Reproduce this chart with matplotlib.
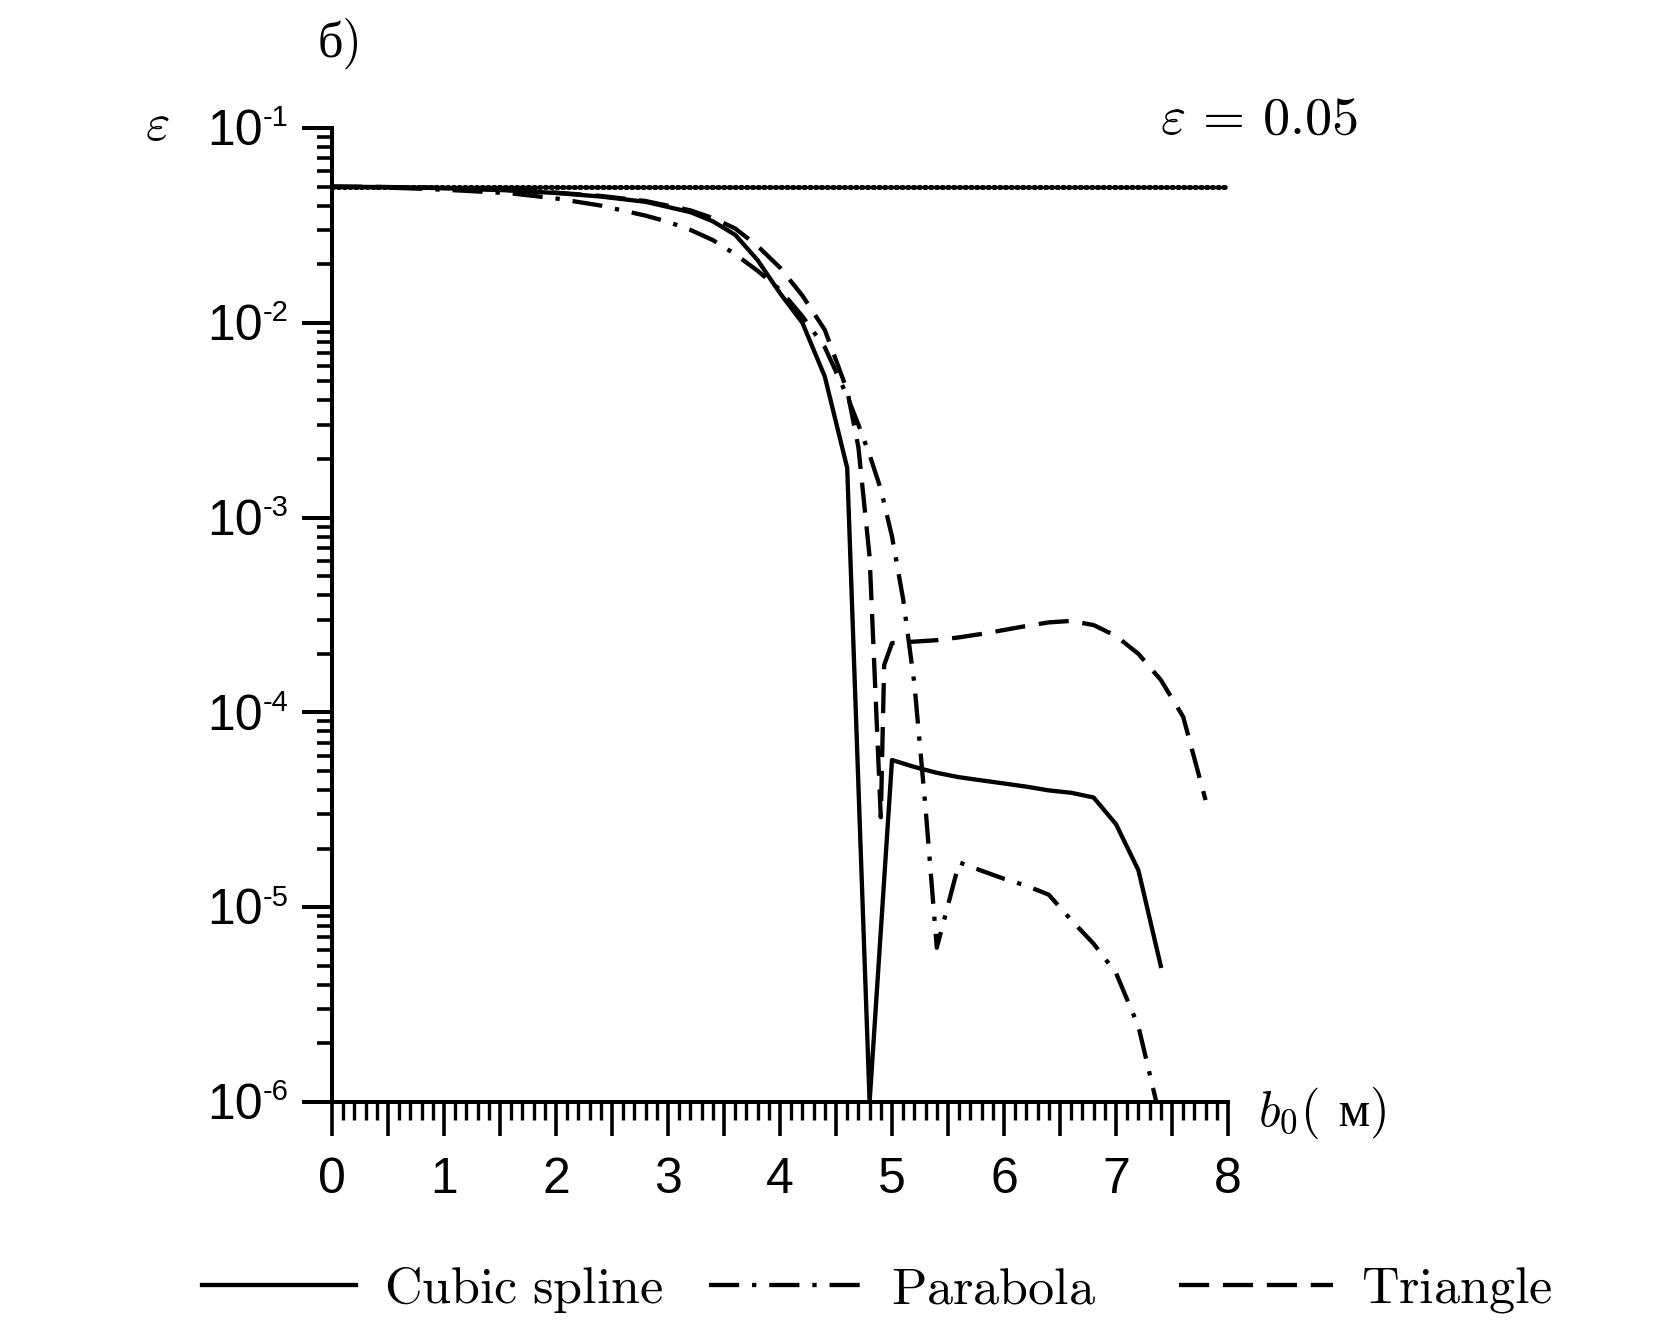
import matplotlib
matplotlib.use("Agg")
import matplotlib.pyplot as plt
from matplotlib.ticker import MultipleLocator, LogLocator, FuncFormatter, NullFormatter

plt.rcParams['font.family'] = ['Liberation Sans Narrow', 'Liberation Sans', 'DejaVu Sans']
plt.rcParams['mathtext.fontset'] = 'cm'

# --- data ---
eps_level = 0.05

x_cs = [0, 0.4, 0.8, 1.2, 1.6, 2.0, 2.4, 2.8, 3.2, 3.4, 3.6, 3.8, 4.0, 4.2, 4.4, 4.6,
        4.8, 5.0, 5.2, 5.4, 5.6, 5.8, 6.0, 6.2, 6.4, 6.6, 6.8, 7.0, 7.2, 7.4]
y_cs = [0.050, 0.0498, 0.0494, 0.0488, 0.0478, 0.0464, 0.0445, 0.0418, 0.0370, 0.0332,
        0.0283, 0.0210, 0.0142, 0.0100, 0.0053, 0.0018,
        1.0e-6, 5.7e-5, 5.25e-5, 4.9e-5, 4.65e-5, 4.48e-5, 4.32e-5, 4.16e-5, 3.98e-5,
        3.87e-5, 3.66e-5, 2.67e-5, 1.55e-5, 5.0e-6]

x_pb = [0, 0.4, 0.8, 1.2, 1.6, 2.0, 2.4, 2.8, 3.0, 3.2, 3.4, 3.6, 3.8, 4.0, 4.2, 4.4,
        4.6, 4.7, 4.8, 4.9, 5.0, 5.1, 5.2, 5.3, 5.4, 5.6, 5.8, 6.0, 6.2, 6.4, 6.6,
        6.8, 7.0, 7.2, 7.4]
y_pb = [0.050, 0.0496, 0.0488, 0.0476, 0.0462, 0.0435, 0.0400, 0.0355, 0.0330, 0.0300,
        0.0266, 0.0225, 0.0185, 0.0148, 0.0108, 0.0075,
        0.0042, 0.0030, 0.0021, 0.0014, 8.0e-4, 3.8e-4, 1.4e-4, 3.2e-5, 6.2e-6,
        1.7e-5, 1.54e-5, 1.4e-5, 1.29e-5, 1.16e-5, 8.6e-6, 6.5e-6, 4.6e-6, 2.45e-6, 8.0e-7]

x_tr = [0, 0.4, 0.8, 1.2, 1.6, 2.0, 2.4, 2.8, 3.2, 3.4, 3.6, 3.8, 4.0, 4.2, 4.4, 4.6,
        4.7, 4.8, 4.9, 4.93, 5.0, 5.2, 5.4, 5.6, 5.8, 6.0, 6.2, 6.4, 6.6, 6.8, 7.0,
        7.2, 7.4, 7.6, 7.8]
y_tr = [0.050, 0.0499, 0.0495, 0.0489, 0.0479, 0.0466, 0.0448, 0.0422, 0.0378, 0.0345,
        0.0305, 0.0248, 0.0192, 0.0138, 0.0092, 0.0045,
        0.0023, 6.3e-4, 2.9e-5, 1.75e-4, 2.27e-4, 2.31e-4, 2.35e-4, 2.43e-4, 2.53e-4,
        2.65e-4, 2.78e-4, 2.90e-4, 2.95e-4, 2.81e-4, 2.47e-4, 2.0e-4, 1.47e-4, 9.5e-5, 3.55e-5]

labels = [r'$\mathrm{Cubic\ spline}$', r'$\mathrm{Parabola}$', r'$\mathrm{Triangle}$']
y_exps = [1, 2, 3, 4, 5, 6]

W, H = 1661.0, 1331.0
fig = plt.figure(figsize=(W / 100, H / 100), dpi=100)
ax = fig.add_axes([0.1999, 0.172, 0.5394, 0.7318])

l1, = ax.plot(x_cs, y_cs, color='black', lw=3.1, ls='-')
l2, = ax.plot(x_pb, y_pb, color='black', lw=3.1, ls=(0, (7, 3, 1, 3)))
l3, = ax.plot(x_tr, y_tr, color='black', lw=3.1, ls=(0, (7, 3.2)))
ax.axhline(eps_level, color='black', lw=3.6, ls=(0, (0.3, 0.85)),
           dash_capstyle='round')

ax.set_yscale('log')
ax.set_ylim(1e-6, 1e-1)
ax.set_xlim(0, 8)

for s in ['top', 'right']:
    ax.spines[s].set_visible(False)
for s in ['left', 'bottom']:
    ax.spines[s].set_linewidth(2.9)

ax.xaxis.set_major_locator(MultipleLocator(0.5))
ax.xaxis.set_minor_locator(MultipleLocator(0.1))
ax.xaxis.set_major_formatter(FuncFormatter(
    lambda v, p: f'{v:.0f}' if abs(v - round(v)) < 1e-6 else ''))
ax.tick_params(axis='x', which='major', direction='out', length=24.5, width=2.6,
               labelsize=36, pad=15)
ax.tick_params(axis='x', which='minor', direction='out', length=13, width=2.4)

ax.yaxis.set_major_locator(LogLocator(base=10, numticks=10))
ax.yaxis.set_minor_locator(LogLocator(base=10, subs=range(2, 10), numticks=20))
ax.yaxis.set_major_formatter(NullFormatter())
ax.yaxis.set_minor_formatter(NullFormatter())
ax.tick_params(axis='y', which='major', direction='out', length=21.6, width=2.9)
ax.tick_params(axis='y', which='minor', direction='out', length=10.8, width=2.6)

# y tick labels 10^-k drawn as two texts
for k in y_exps:
    v = 10.0 ** (-k)
    ax.annotate('10', xy=(0, v), xycoords=('axes fraction', 'data'),
                xytext=(-49.5, -3), textcoords='offset points',
                ha='right', va='center', fontsize=36)
    ax.annotate('-%d' % k, xy=(0, v), xycoords=('axes fraction', 'data'),
                xytext=(-31.5, 7), textcoords='offset points',
                ha='right', va='center', fontsize=21)

fig.text(157 / W, 1 - 126 / H, r'$\varepsilon$', fontsize=38, ha='center', va='center')
fig.text(1160 / W, 1 - 134 / H, r'$\varepsilon\,=\,0.05$', fontsize=39,
         ha='left', va='baseline')
fig.text(318 / W, 1 - 57 / H, 'б)', fontsize=36, ha='left', va='baseline',
         family=['cmr10', 'Liberation Serif'])

# x axis label b_0( м)
t1 = fig.text(1258 / W, 1 - 1126 / H, r'$b_0($', fontsize=36, ha='left', va='baseline')
renderer = fig.canvas.get_renderer()
bb = t1.get_window_extent(renderer)
fig.text(bb.x1 / W + 0.002, 1 - 1126 / H, ' м)', fontsize=36, ha='left', va='baseline',
         family=['cmr10', 'Liberation Serif'])

# legend entries placed one by one (unequal spacing in the original)
for line, lab, x0 in zip([l1, l2, l3], labels, [202, 709, 1179]):
    fig.legend([line], [lab], loc='center left', bbox_to_anchor=(x0 / W, 1 - 1290 / H),
               frameon=False, fontsize=37.5, handlelength=2.95, handletextpad=0.55,
               borderpad=0, borderaxespad=0)

fig.savefig('out.png', dpi=100)
